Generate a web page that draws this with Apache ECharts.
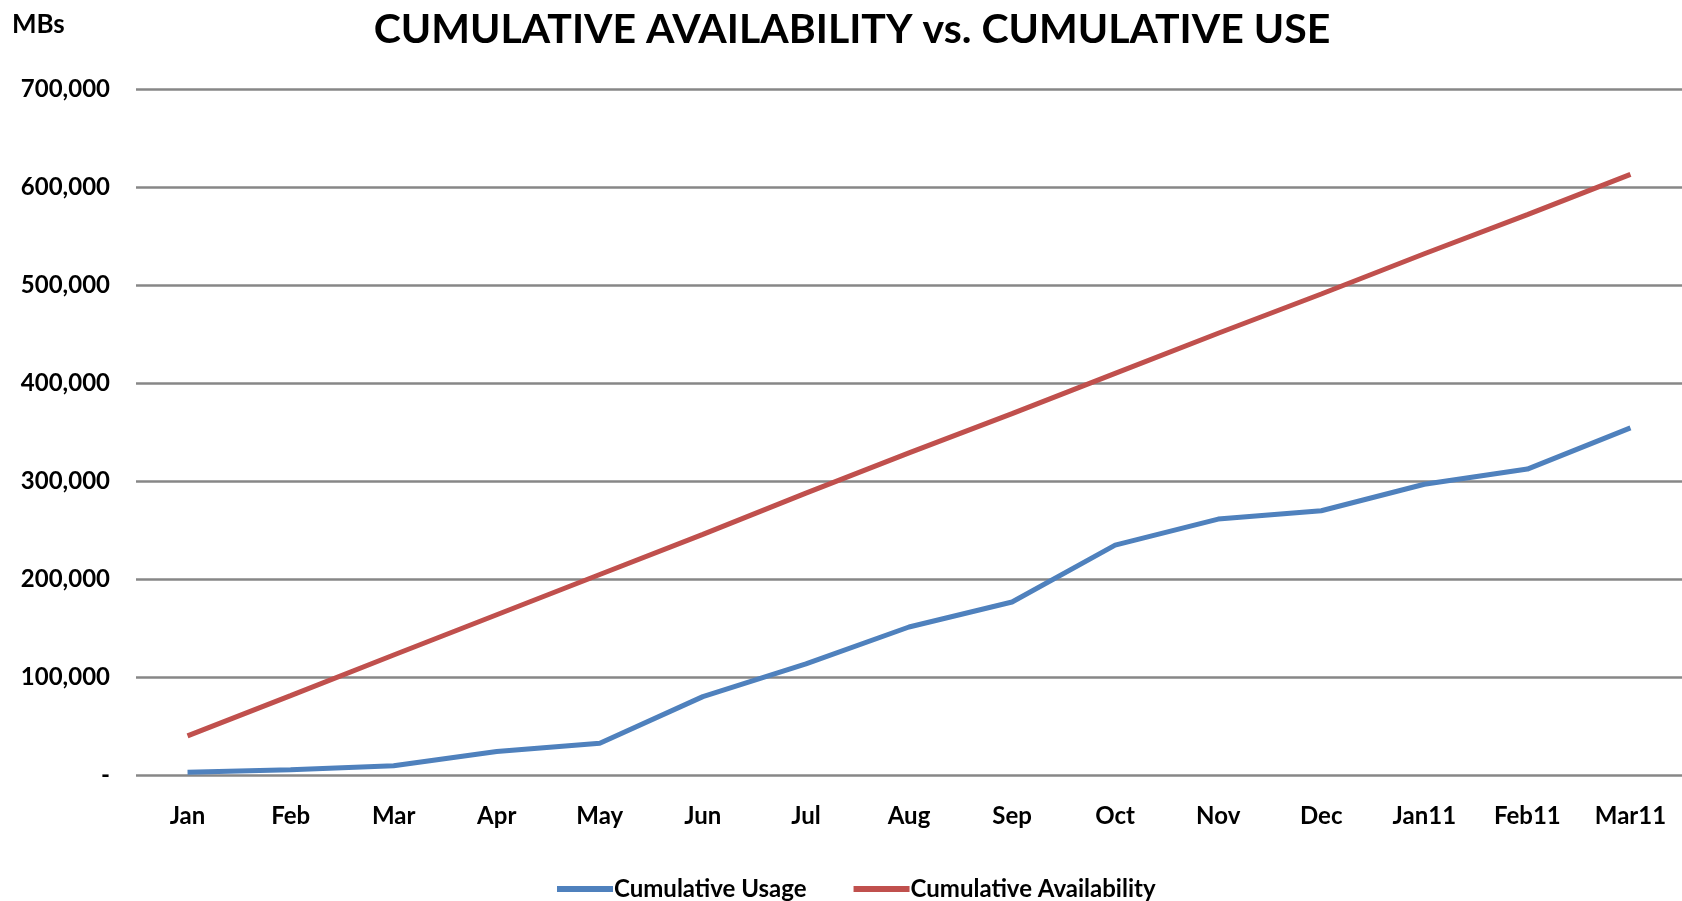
<!DOCTYPE html>
<html>
<head>
<meta charset="utf-8">
<style>html,body{margin:0;padding:0;background:#fff}#c{width:1682px;height:901px}</style>
<script src="https://cdn.jsdelivr.net/npm/echarts@6/dist/echarts.min.js"></script>
</head>
<body>
<div id="c"></div>
<script>
const categories = ['Jan','Feb','Mar','Apr','May','Jun','Jul','Aug','Sep','Oct','Nov','Dec','Jan11','Feb11','Mar11'];
const cumulativeUsage = [3500, 6000, 10000, 24500, 33000, 80500, 114000, 151500, 177000, 235000, 261500, 270000, 297000, 312500, 354500];
const cumulativeAvailability = [40500, 81500, 123000, 164000, 205000, 246000, 288000, 329000, 369000, 410000, 451000, 491000, 532000, 572000, 613000];
const yTicks = [0, 100000, 200000, 300000, 400000, 500000, 600000, 700000];

const FONT = 'Lato, "Open Sans", sans-serif';
const chart = echarts.init(document.getElementById('c'));
chart.setOption({
  animation: false,
  backgroundColor: '#ffffff',
  title: {
    text: 'CUMULATIVE AVAILABILITY vs. CUMULATIVE USE',
    left: 847, top: 4, textAlign: 'center',
    textStyle: {fontFamily: FONT, fontWeight: 'bold', fontSize: 41, color: '#000'}
  },
  graphic: [{
    type: 'text', left: 12, top: 12,
    style: {text: 'MBs', fontFamily: FONT, fontWeight: 'bold', fontSize: 26, fill: '#000'}
  }],
  legend: {
    left: 552, top: 872,
    itemWidth: 56, itemHeight: 6, itemGap: 47,
    icon: 'rect',
    textStyle: {fontFamily: FONT, fontWeight: 'bold', fontSize: 24, color: '#000', padding: [0,0,0,-4]},
    data: ['Cumulative Usage', 'Cumulative Availability']
  },
  grid: {left: 136, right: 0, top: 89, bottom: 125.4},
  xAxis: {
    type: 'category',
    data: categories,
    boundaryGap: true,
    axisLine: {show: false},
    axisTick: {show: false},
    axisLabel: {fontFamily: FONT, fontWeight: 'bold', fontSize: 24, color: '#000', margin: 29}
  },
  yAxis: {
    type: 'value',
    min: yTicks[0], max: yTicks[yTicks.length-1], interval: 100000,
    axisLine: {show: false},
    axisTick: {show: false},
    splitLine: {lineStyle: {color: '#878787', width: 2.5}},
    axisLabel: {
      fontFamily: FONT, fontWeight: 'bold', fontSize: 24, color: '#000', margin: 26,
      formatter: v => v === 0 ? '-' : v.toLocaleString('en-US')
    }
  },
  series: [
    {name: 'Cumulative Usage', type: 'line', data: cumulativeUsage, symbol: 'none',
     lineStyle: {color: '#4F81BD', width: 5}, itemStyle: {color: '#4F81BD'}},
    {name: 'Cumulative Availability', type: 'line', data: cumulativeAvailability, symbol: 'none',
     lineStyle: {color: '#C0504D', width: 5}, itemStyle: {color: '#C0504D'}}
  ]
});
</script>
</body>
</html>
